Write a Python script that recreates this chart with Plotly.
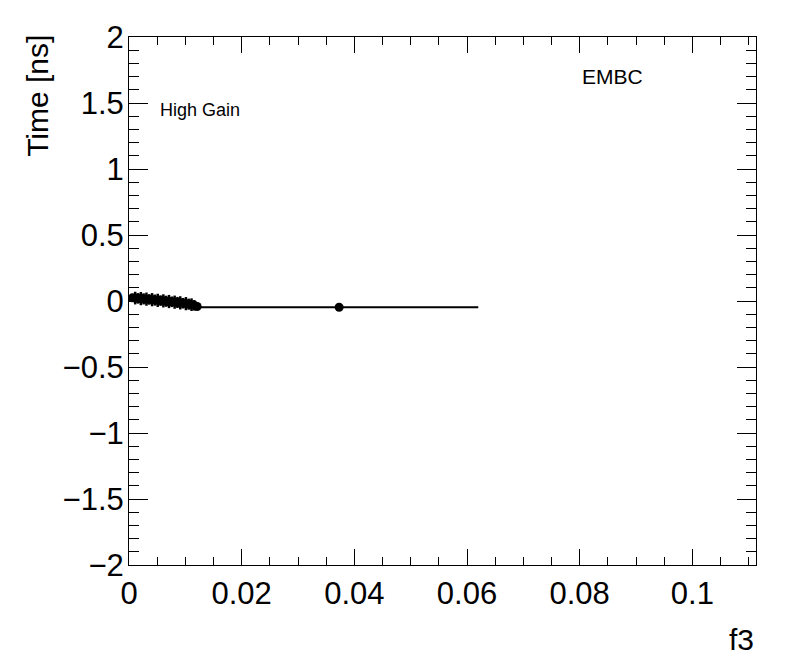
import plotly.graph_objects as go

# Dense cluster of measurements (f3, time)
f3_vals = [0.0006, 0.0011, 0.0016, 0.0021, 0.0026, 0.0031, 0.0036, 0.0041,
           0.0046, 0.0051, 0.0056, 0.0061, 0.0066, 0.0071, 0.0076, 0.0081,
           0.0086, 0.0091, 0.0096, 0.0101, 0.0106, 0.0111, 0.0116, 0.0121]
time_vals = [0.024, 0.022, 0.020, 0.018, 0.016, 0.014, 0.012, 0.010,
             0.007, 0.005, 0.003, 0.001, -0.002, -0.004, -0.006, -0.009,
             -0.011, -0.014, -0.017, -0.020, -0.024, -0.028, -0.033, -0.042]
time_errs = [0.018, 0.048, 0.040, 0.050, 0.042, 0.050, 0.040, 0.050,
             0.042, 0.050, 0.040, 0.050, 0.042, 0.050, 0.040, 0.050,
             0.042, 0.050, 0.040, 0.050, 0.042, 0.048, 0.040, 0.022]

# Isolated point
iso_f3 = [0.0373]
iso_time = [-0.047]

# Horizontal line segment
line_f3 = [0.0121, 0.0620]
line_time = [-0.047, -0.047]

x_range = [0.0, 0.1113]
y_range = [-2.0, 2.0]

FONT = "Liberation Sans, Arial, Helvetica, sans-serif"

fig = go.Figure()
fig.add_trace(go.Scatter(x=line_f3, y=line_time, mode="lines",
                         line=dict(color="black", width=2), showlegend=False,
                         hoverinfo="skip"))
fig.add_trace(go.Scatter(x=f3_vals, y=time_vals, mode="markers",
                         marker=dict(color="black", size=9, symbol="circle"),
                         error_y=dict(type="data", array=time_errs, color="black",
                                      thickness=2.5, width=0),
                         showlegend=False))
fig.add_trace(go.Scatter(x=iso_f3, y=iso_time, mode="markers",
                         marker=dict(color="black", size=9, symbol="circle"),
                         showlegend=False))

axis_common = dict(
    showgrid=False, zeroline=False, showline=True, linecolor="black",
    linewidth=1, mirror="allticks", ticks="inside", tickcolor="black",
    tickwidth=1, tickfont=dict(family=FONT, size=31, color="black"),
)

fig.update_xaxes(range=x_range, dtick=0.02, tick0=0, ticklen=16,
                 minor=dict(ticks="inside", dtick=0.005, ticklen=8,
                            tickcolor="black", tickwidth=1),
                 ticklabelstandoff=1, **axis_common)
fig.update_yaxes(range=y_range, dtick=0.5, tick0=0, ticklen=19,
                 minor=dict(ticks="inside", dtick=0.1, ticklen=10,
                            tickcolor="black", tickwidth=1),
                 ticklabelstandoff=-2, **axis_common)

fig.update_layout(
    width=788, height=664,
    margin=dict(l=121, r=40, t=26, b=107),
    paper_bgcolor="white", plot_bgcolor="white",
    font=dict(family=FONT, color="black"),
    annotations=[
        dict(text="Time [ns]", xref="paper", yref="paper", x=-0.145, y=1.008,
             xanchor="center", yanchor="top", textangle=-90, showarrow=False,
             font=dict(family=FONT, size=30, color="black")),
        dict(text="f3", xref="paper", yref="paper", x=1.0, y=-0.141,
             xanchor="right", yanchor="middle", showarrow=False,
             font=dict(family=FONT, size=30, color="black")),
        dict(text="High Gain", xref="paper", yref="paper", x=0.046, y=0.8625,
             xanchor="left", yanchor="middle", showarrow=False,
             font=dict(family=FONT, size=18, color="black")),
        dict(text="EMBC", xref="paper", yref="paper", x=0.719, y=0.925,
             xanchor="left", yanchor="middle", showarrow=False,
             font=dict(family=FONT, size=21, color="black")),
    ],
)

fig.write_html("out.html")
